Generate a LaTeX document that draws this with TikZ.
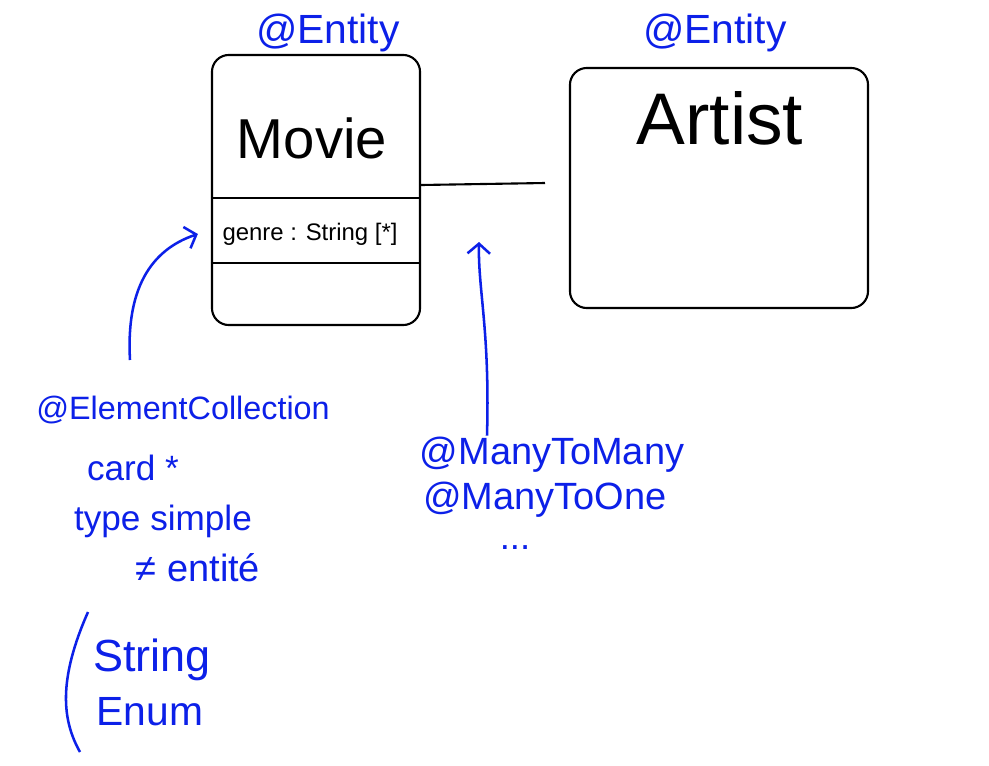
\documentclass[tikz,border=0pt]{standalone}
\usepackage{fontspec}
\setmainfont{Liberation Sans}
\usetikzlibrary{arrows.meta}
\definecolor{penblue}{RGB}{12,32,232}
\begin{document}
\begin{tikzpicture}[x=0.025cm, y=-0.025cm,
    box/.style={draw, line width=1.5pt, rounded corners=12pt, minimum width=#1},
    note/.style={penblue, inner sep=1pt},
    notearrow/.style={penblue, line width=1.8pt, -{Straight Barb[length=7pt,width=16pt]}}]
    \useasboundingbox (0,0) rectangle (989,765);

    % Entities
    \node[box=5.2cm, minimum height=6.75cm] (movie) at (316,190) {};
    \node[box=7.45cm, minimum height=6cm] (artist) at (719,188) {};
    \node[note, font=\fontsize{29}{32}\selectfont] (ent1) at (328,33) {@Entity};
    \node[note, font=\fontsize{29}{32}\selectfont] (ent2) at (715,33) {@Entity};
    \node[font=\fontsize{40}{44}\selectfont] (mtitle) at (312,138) {Movie};
    \node[font=\fontsize{52}{56}\selectfont] (atitle) at (720,118) {Artist};
    \node[font=\fontsize{17}{20}\selectfont] (genre) at (310,234) {genre : String [*]};

    % Compartments
    \draw[line width=1.5pt] (movie.west |- 0,198) -- (movie.east |- 0,198);
    \draw[line width=1.5pt] (movie.west |- 0,263) -- (movie.east |- 0,263);

    % Association
    \coordinate (linkend) at (545,183);
    \draw[line width=1.5pt] (movie.east |- 0,185) -- (linkend);

    % Element collection notes
    \node[note, font=\fontsize{23}{26}\selectfont] (ec) at (183,410) {@ElementCollection};
    \node[note, font=\fontsize{25}{28}\selectfont] (card) at (133,468) {card *};
    \node[note, font=\fontsize{25}{28}\selectfont] (type) at (163,521) {type simple};
    \node[note, font=\fontsize{27}{30}\selectfont] (neq) at (198,568) {≠ entité};
    \node[note, font=\fontsize{32}{36}\selectfont] (string) at (152,660) {String};
    \node[note, font=\fontsize{29}{32}\selectfont] (enum) at (150,712) {Enum};
    \draw[penblue, line width=1.8pt] (88,612) .. controls (58,680) and (62,720) .. (80,752);
    \draw[notearrow] (130,360) .. controls (126,290) and (150,250) .. ([xshift=-14pt]genre.west);

    % Relation notes
    \node[note, font=\fontsize{27}{30}\selectfont] (mtm) at (552,455) {@ManyToMany};
    \node[note, font=\fontsize{27}{30}\selectfont] (mto) at (545,500) {@ManyToOne};
    \node[note, font=\fontsize{26}{28}\selectfont] (dots) at (515,548) {...};
    \coordinate (mtmtip) at (479,242);
    \draw[notearrow] (mtm.north -| 487,0) .. controls (490,330) and (478,290) .. (mtmtip);
\end{tikzpicture}
\end{document}
